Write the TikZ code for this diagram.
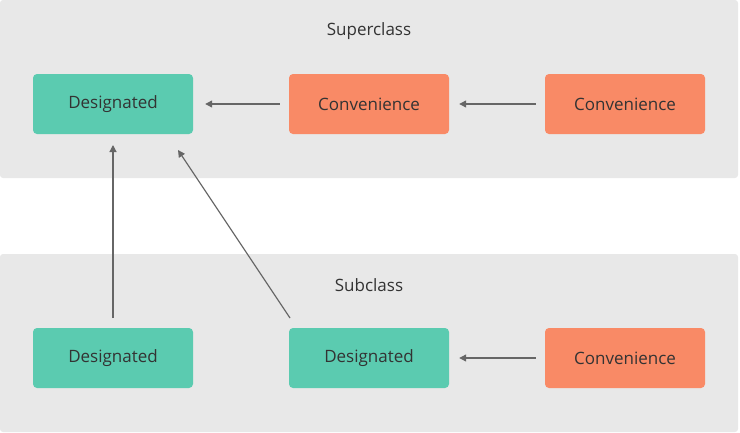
\documentclass[tikz,border=0pt]{standalone}
\usepackage{fontspec}
\setmainfont{Open Sans}
\usetikzlibrary{arrows.meta}
\definecolor{panel}{HTML}{E8E8E8}
\definecolor{teal}{HTML}{5BCBB0}
\definecolor{orng}{HTML}{F98A66}
\definecolor{txt}{HTML}{333333}
\definecolor{arr}{HTML}{666666}
\begin{document}
\begin{tikzpicture}[x=1pt,y=-1pt,
  box/.style={minimum width=160pt,minimum height=60pt,rounded corners=4pt,text=txt,font=\fontsize{17}{20}\selectfont,inner sep=0pt},
  des/.style={box,fill=teal},
  con/.style={box,fill=orng},
  lbl/.style={text=txt,font=\fontsize{17}{20}\selectfont},
  ar/.style={draw=arr,line width=1.2pt,-{Triangle[length=7pt,width=7pt]}}]
\useasboundingbox (0,0) rectangle (740,432);
\fill[panel,rounded corners=3pt] (0,0) rectangle (738,178);
\fill[panel,rounded corners=3pt] (0,254) rectangle (738,432);
\node[lbl] (sup) at (369,31) {Superclass};
\node[lbl] (sub) at (369,285) {Subclass};
\node[des] (d1) at (113,104) {Designated};
\node[con] (c1) at (369,104) {Convenience};
\node[con] (c2) at (625,104) {Convenience};
\node[des] (d2) at (113,358) {Designated};
\node[des] (d3) at (369,358) {Designated};
\node[con] (c3) at (625,358) {Convenience};
\coordinate (a1) at (113,145);
\coordinate (a2) at (178,150);
\coordinate (b1) at (113,318);
\coordinate (b2) at (290,318);
\draw[ar] ([xshift=-9pt]c1.west) -- ([xshift=12pt]d1.east);
\draw[ar] ([xshift=-9pt]c2.west) -- ([xshift=10pt]c1.east);
\draw[ar] ([xshift=-9pt]c3.west) -- ([xshift=10pt]d3.east);
\draw[ar] (b1) -- (a1);
\draw[ar] (b2) -- (a2);
\end{tikzpicture}
\end{document}
